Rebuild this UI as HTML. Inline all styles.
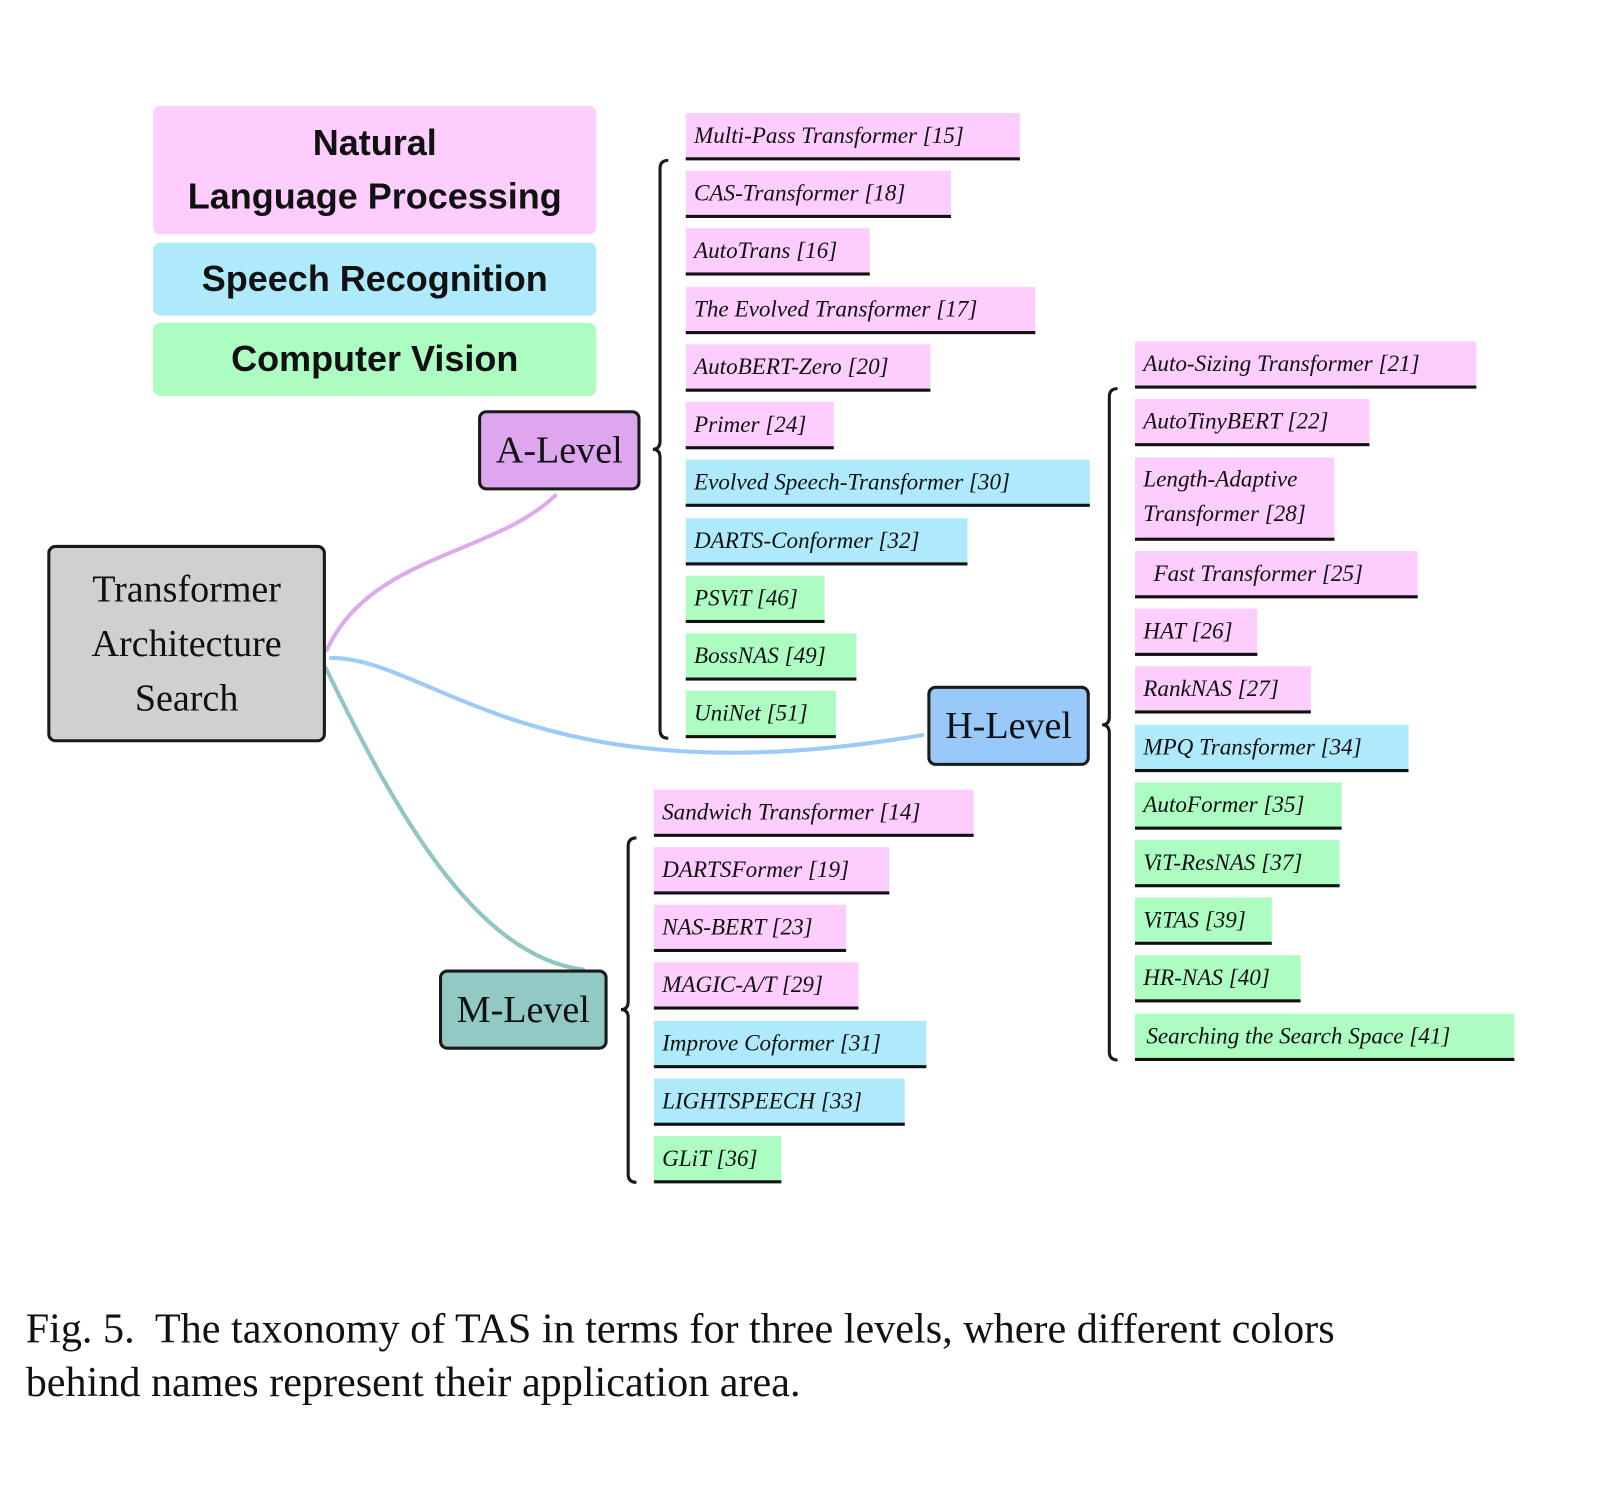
<!DOCTYPE html>
<html><head><meta charset="utf-8"><style>
html,body{margin:0;padding:0;background:#fff;width:1611px;height:1485px;overflow:hidden}
#w{position:absolute;left:0;top:0;width:1567px;height:1444px;transform:scale(1.0281);transform-origin:0 0}
.a{position:absolute}
.leg{position:absolute;left:149px;width:431px;border-radius:7px;font-family:"Liberation Sans",sans-serif;font-weight:bold;font-size:35px;color:#111;text-align:center;display:flex;align-items:center;justify-content:center;line-height:52px}
.node{position:absolute;border:3px solid #1a1a1a;border-radius:8px;box-sizing:border-box;font-family:"Liberation Serif",serif;font-size:37px;color:#111;display:flex;align-items:center;justify-content:center;text-align:center}
.it{position:absolute;height:43px;border-bottom:3px solid #111;font-family:"Liberation Serif",serif;font-style:italic;font-size:22.5px;color:#111;padding-left:8px;box-sizing:content-box;line-height:43px;white-space:nowrap}
.p{background:#fdcdfd}.b{background:#aeeafc}.g{background:#adfcc2}
.cap{position:absolute;left:25px;font-family:"Liberation Serif",serif;font-size:41px;color:#111;white-space:nowrap}
</style></head><body><div id="w">
<div class="leg" style="top:103px;height:125px">Natural<br>Language Processing</div>
<div class="leg" style="top:236px;height:71px;background:#aeeafc">Speech Recognition</div>
<div class="leg" style="top:314px;height:71px;background:#adfcc2">Computer Vision</div>
<div class="leg" style="top:103px;height:125px;background:#fdcdfd;z-index:-1"></div>

<svg class="a" style="left:0;top:0" width="1567" height="1444">
<g fill="none" stroke-width="4" stroke-linecap="round">
<path d="M318 632 C360 540 480 540 540 482" stroke="#deaaef"/>
<path d="M322 640 C420 640 520 780 897 715" stroke="#9ccbfa"/>
<path d="M317 650 C380 780 460 930 567 943" stroke="#90c6c2"/>
</g>
<g fill="none" stroke="#1a1a1a" stroke-width="3">
<path d="M650 156 Q642 156 642 164 L642 429 Q642 437 635 437 Q642 437 642 445 L642 710 Q642 718 650 718"/>
<path d="M1087 378 Q1079 378 1079 386 L1079 697 Q1079 705 1072 705 Q1079 705 1079 713 L1079 1023 Q1079 1031 1087 1031"/>
<path d="M619 815 Q611 815 611 823 L611 974 Q611 982 604 982 Q611 982 611 990 L611 1142 Q611 1150 619 1150"/>
</g>
</svg>

<div class="node" style="left:46px;top:530px;width:271px;height:192px;background:#d0d0d0;line-height:53px">Transformer<br>Architecture<br>Search</div>
<div class="node" style="left:465px;top:399px;width:158px;height:78px;background:#dea6ee">A-Level</div>
<div class="node" style="left:902px;top:667px;width:158px;height:78px;background:#99c9fa">H-Level</div>
<div class="node" style="left:427px;top:943px;width:164px;height:78px;background:#93c9c5">M-Level</div>

<div class="it p" style="left:667px;top:110px;width:317px">Multi-Pass Transformer [15]</div>
<div class="it p" style="left:667px;top:166px;width:250px">CAS-Transformer [18]</div>
<div class="it p" style="left:667px;top:222px;width:171px">AutoTrans [16]</div>
<div class="it p" style="left:667px;top:279px;width:332px">The Evolved Transformer [17]</div>
<div class="it p" style="left:667px;top:335px;width:230px">AutoBERT-Zero [20]</div>
<div class="it p" style="left:667px;top:391px;width:136px">Primer [24]</div>
<div class="it b" style="left:667px;top:447px;width:385px">Evolved Speech-Transformer [30]</div>
<div class="it b" style="left:667px;top:504px;width:266px">DARTS-Conformer [32]</div>
<div class="it g" style="left:667px;top:560px;width:127px">PSViT [46]</div>
<div class="it g" style="left:667px;top:616px;width:158px">BossNAS [49]</div>
<div class="it g" style="left:667px;top:672px;width:138px">UniNet [51]</div>

<div class="it p" style="left:1104px;top:332px;width:324px">Auto-Sizing Transformer [21]</div>
<div class="it p" style="left:1104px;top:388px;width:220px">AutoTinyBERT [22]</div>
<div class="it p" style="left:1104px;top:445px;width:194px;height:78px;line-height:34px;padding-top:4px;box-sizing:border-box;height:81px">Length-Adaptive<br>Transformer [28]</div>
<div class="it p" style="left:1104px;top:536px;width:267px;padding-left:18px;width:257px">Fast Transformer [25]</div>
<div class="it p" style="left:1104px;top:592px;width:111px">HAT [26]</div>
<div class="it p" style="left:1104px;top:648px;width:163px">RankNAS [27]</div>
<div class="it b" style="left:1104px;top:705px;width:258px">MPQ Transformer [34]</div>
<div class="it g" style="left:1104px;top:761px;width:193px">AutoFormer [35]</div>
<div class="it g" style="left:1104px;top:817px;width:191px">ViT-ResNAS [37]</div>
<div class="it g" style="left:1104px;top:873px;width:125px">ViTAS [39]</div>
<div class="it g" style="left:1104px;top:929px;width:153px">HR-NAS [40]</div>
<div class="it g" style="left:1104px;top:986px;width:361px;padding-left:11px;width:358px">Searching the Search Space [41]</div>

<div class="it p" style="left:636px;top:768px;width:303px">Sandwich Transformer [14]</div>
<div class="it p" style="left:636px;top:824px;width:221px">DARTSFormer [19]</div>
<div class="it p" style="left:636px;top:880px;width:179px">NAS-BERT [23]</div>
<div class="it p" style="left:636px;top:936px;width:191px">MAGIC-A/T [29]</div>
<div class="it b" style="left:636px;top:993px;width:257px">Improve Coformer [31]</div>
<div class="it b" style="left:636px;top:1049px;width:236px">LIGHTSPEECH [33]</div>
<div class="it g" style="left:636px;top:1105px;width:116px">GLiT [36]</div>

<div class="cap" style="top:1268px">Fig. 5.&nbsp; The taxonomy of TAS in terms for three levels, where different colors</div>
<div class="cap" style="top:1320px">behind names represent their application area.</div>
</div></body></html>
